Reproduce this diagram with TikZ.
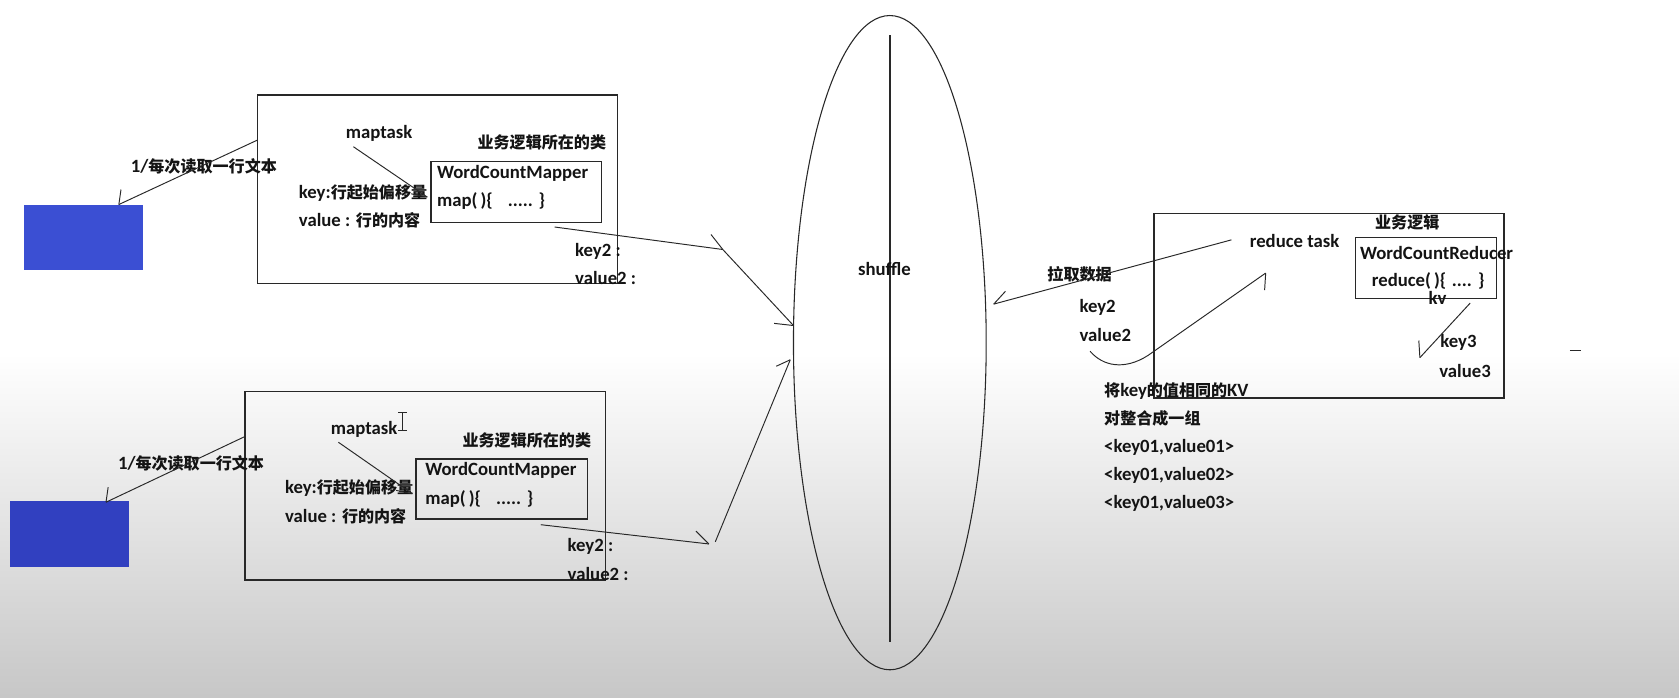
\documentclass[tikz,border=0pt]{standalone}
\usepackage{fontspec}
\setmainfont{Carlito}
\newfontfamily\cjk{Noto Sans CJK SC}
\usetikzlibrary{shapes.geometric,arrows.meta}
\newcommand\zh[1]{{\cjk\fontsize{15}{18}\selectfont #1}}
\definecolor{blueA}{RGB}{59,79,211}
\definecolor{blueB}{RGB}{49,64,192}
\definecolor{inkc}{RGB}{40,40,40}
\begin{document}
\begin{tikzpicture}[x=1pt,y=-1pt,
  txt/.style={font=\fontsize{17.5}{20}\selectfont\bfseries, inner sep=0pt, text=black!92},
  lt/.style={txt,anchor=west},
  boxn/.style={draw=inkc, line width=1.3pt, inner sep=0pt, anchor=north west},
  blk/.style={inner sep=0pt, anchor=north west, draw=none},
  ln/.style={draw=inkc, line width=0.9pt}
]
\useasboundingbox (0,0) rectangle (1568,651);
\fill[white] (0,0) rectangle (1568,330);
\shade[top color=white, bottom color=black!22] (0,330) rectangle (1568,651);

% blue blocks
\node[blk, fill=blueA, minimum width=111, minimum height=61] (b1) at (22,191) {};
\node[blk, fill=blueB, minimum width=111, minimum height=61] (b2) at (9,468) {};

% map boxes
\node[boxn, minimum width=336, minimum height=176] (m1) at (240,88) {};
\node[boxn, minimum width=159, minimum height=57] (i1) at (402,150) {};
\node[boxn, minimum width=337, minimum height=176] (m2) at (228,365) {};
\node[boxn, minimum width=160, minimum height=56] (i2) at (388,428) {};

% reduce boxes
\node[boxn, minimum width=327, minimum height=172] (r) at (1077,199) {};
\node[boxn, minimum width=132, minimum height=57] (ri) at (1265,221) {};

% shuffle ellipse
\node[ellipse, draw=inkc, line width=1pt, minimum width=180, minimum height=611, inner sep=0pt] (ell) at (831,320) {};
\coordinate (vt) at (831,33);
\coordinate (vb) at (831,600);
\draw[ln, line width=1.3pt] (vt) -- (vb);
\node[txt] (shf) at (826,251) {shuffle};

% texts box 1
\node[txt] (mt1) at (354,125) {maptask};
\node[txt] (yw1) at (506,133) {\zh{业务逻辑所在的类}};
\node[lt] (wc1) at (408,162) {WordCountMapper};
\node[lt] (mp1) at (408,188) {map(\,)\{\hspace{14pt}..... \}};
\node[lt] (k1) at (279,180) {key:\zh{行起始偏移量}};
\node[lt] (v1) at (279,206) {value : \zh{行的内容}};
\node[lt] (kk1) at (537,235) {key2 :};
\node[lt] (vv1) at (537,260) {value2 :};
\node[lt] (rd1) at (122,155) {1/\zh{每次读取一行文本}};

% texts box 2
\node[txt] (mt2) at (340,401) {maptask};
\node[txt] (yw2) at (492,411) {\zh{业务逻辑所在的类}};
\node[lt] (wc2) at (397,439) {WordCountMapper};
\node[lt] (mp2) at (397,466) {map(\,)\{\hspace{14pt}..... \}};
\node[lt] (k2) at (266,456) {key:\zh{行起始偏移量}};
\node[lt] (v2) at (266,482) {value : \zh{行的内容}};
\node[lt] (kk2) at (530,510) {key2 :};
\node[lt] (vv2) at (530,536) {value2 :};
\node[lt] (rd2) at (110,433) {1/\zh{每次读取一行文本}};

% right side texts
\node[lt] (lq) at (978,256) {\zh{拉取数据}};
\node[lt] (rt) at (1167,225) {reduce task};
\node[lt] (yw3) at (1284,208) {\zh{业务逻辑}};
\node[lt] (wcr) at (1270,236) {WordCountReducer};
\node[lt] (rdf) at (1281,262) {reduce(\,)\{\hspace{5pt}....\hspace{6pt}\}};
\node[lt] (kv) at (1334,278) {kv};
\node[lt] (rk2) at (1008,287) {key2};
\node[lt] (rv2) at (1008,313) {value2};
\node[lt] (rk3) at (1345,320) {key3};
\node[lt] (rv3) at (1344,346) {value3};
\node[lt] (g1) at (1031,365) {\zh{将}key\zh{的值相同的}KV};
\node[lt] (g2) at (1031,391) {\zh{对整合成一组}};
\node[lt] (g3) at (1031,418) {<key01,value01>};
\node[lt] (g4) at (1031,444) {<key01,value02>};
\node[lt] (g5) at (1031,470) {<key01,value03>};

% connectors: box -> blue block
\coordinate (a1s) at (240,131);
\coordinate (a1e) at (111,191);
\draw[ln] (a1s) -- (a1e);
\draw[ln] (113,177) -- (a1e);
\coordinate (a2s) at (228,408);
\coordinate (a2e) at (99,469);
\draw[ln] (a2s) -- (a2e);
\draw[ln] (101,455) -- (a2e);

% maptask -> mapper
\coordinate (p1a) at (330,137);
\coordinate (p1b) at (399,184);
\draw[ln] (p1a) -- (p1b);
\draw[ln] (384,181) -- (p1b);
\coordinate (p2a) at (316,413);
\coordinate (p2b) at (385,461);
\draw[ln] (p2a) -- (p2b);
\draw[ln] (370,458) -- (p2b);

% mapper -> shuffle
\coordinate (q1a) at (518,212);
\coordinate (q1b) at (675,233);
\coordinate (q1c) at (741,304);
\draw[ln] (q1a) -- (q1b) -- (q1c);
\draw[ln] (664,219) -- (q1b);
\draw[ln] (723,302) -- (q1c);
\coordinate (q2a) at (505,490);
\coordinate (q2b) at (662,508);
\coordinate (q2c) at (668,506);
\coordinate (q2d) at (738,336);
\draw[ln] (q2a) -- (q2b);
\draw[ln] (650,496) -- (q2b);
\draw[ln] (q2c) -- (q2d);
\draw[ln] (725,342) -- (q2d);

% reduce task -> shuffle
\coordinate (s1) at (1150,224);
\coordinate (s2) at (928,284);
\draw[ln] (s1) -- (s2);
\draw[ln] (939,272) -- (s2);

% curve back to reduce task
\coordinate (c1) at (1018,328);
\coordinate (c2) at (1182,255);
\draw[ln] (c1) .. controls (1030,342) and (1050,346) .. (1072,332) -- (c2);
\draw[ln] (c2) -- (1181,271);

% reducer -> key3
\coordinate (d1) at (1373,283);
\coordinate (d2) at (1326,334);
\draw[ln] (d1) -- (d2);
\draw[ln] (1325,318) -- (d2);

% small dash at right
\coordinate (e1) at (1466,327);
\coordinate (e2) at (1476,327);
\draw[ln, line width=1.2pt] (e1) -- (e2);

% text cursor (I-beam)
\draw[ln, line width=0.9pt] (376,385) -- (376,402) (372,385) -- (380,385) (372,402) -- (380,402);
\end{tikzpicture}
\end{document}
